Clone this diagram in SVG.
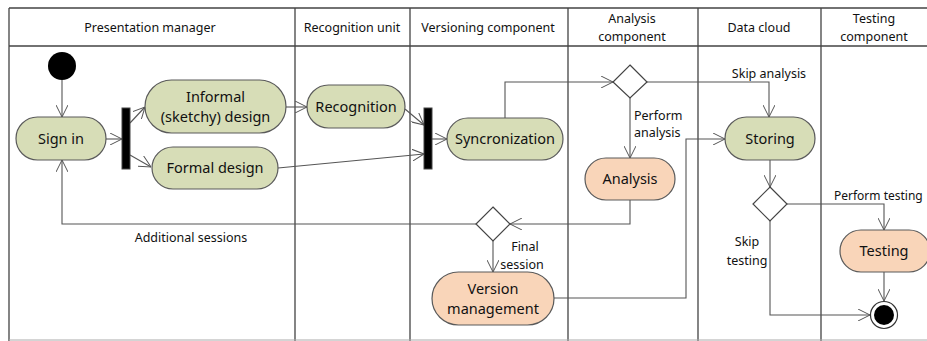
<svg xmlns="http://www.w3.org/2000/svg" width="927" height="341" viewBox="0 0 927 341">
<style>
text{font-family:"Noto Sans","Open Sans",sans-serif;fill:#111}
.h{font-size:12.5px;text-anchor:middle}
.n{font-size:14.5px;text-anchor:middle}
.l{font-size:12.5px}
.lane{stroke:#444;stroke-width:1.3;fill:none}
.g{fill:#d7ddb7;stroke:#5a5a5a;stroke-width:1.2}
.o{fill:#f9d5b9;stroke:#5a5a5a;stroke-width:1.2}
.c{stroke:#555;stroke-width:1.1;fill:none}
.d{fill:#fff;stroke:#444;stroke-width:1.2}
</style>
<defs>
<marker id="a" viewBox="0 0 12 12" refX="12" refY="6" markerWidth="12" markerHeight="12" markerUnits="userSpaceOnUse" orient="auto">
<path d="M0,0 L12,6 L0,12" fill="none" stroke="#555" stroke-width="1"/>
</marker>
</defs>
<rect width="927" height="341" fill="#fff"/>
<g id="lanes">
<path class="lane" d="M9,8 H927 M9,46 H927 M9,8 V341 M295,8 V341 M410,8 V341 M698,8 V341"/>
<path class="lane" d="M568,8 V341 M821,8 V341" stroke-width="2"/>
<path d="M9,340 H927" stroke="#aaa" stroke-width="1"/>
<text class="h" x="150" y="32">Presentation manager</text>
<text class="h" x="352" y="32">Recognition unit</text>
<text class="h" x="488" y="32">Versioning component</text>
<text class="h" x="632" y="23">Analysis</text>
<text class="h" x="632" y="41">component</text>
<text class="h" x="759" y="32">Data cloud</text>
<text class="h" x="874" y="23">Testing</text>
<text class="h" x="874" y="41">component</text>
</g>
<g id="connectors">
<path class="c" d="M62,80 V117" marker-end="url(#a)"/>
<path class="c" d="M106,139 H122" marker-end="url(#a)"/>
<path class="c" d="M130,123 L145,107" marker-end="url(#a)"/>
<path class="c" d="M130,155 L151,167" marker-end="url(#a)"/>
<path class="c" d="M286,107 H307" marker-end="url(#a)"/>
<path class="c" d="M405,109 L424,125" marker-end="url(#a)"/>
<path class="c" d="M278,168 L424,154" marker-end="url(#a)"/>
<path class="c" d="M432,139 H447" marker-end="url(#a)"/>
<path class="c" d="M505,118 V82 H613" marker-end="url(#a)"/>
<path class="c" d="M647,82 H769 V117" marker-end="url(#a)"/>
<path class="c" d="M630,98 V158" marker-end="url(#a)"/>
<path class="c" d="M630,200 V224 H510" marker-end="url(#a)"/>
<path class="c" d="M476,224 H62 V160" marker-end="url(#a)"/>
<path class="c" d="M493,241 V272" marker-end="url(#a)"/>
<path class="c" d="M554,298 H686 V139 H725" marker-end="url(#a)"/>
<path class="c" d="M770,160 V187" marker-end="url(#a)"/>
<path class="c" d="M787,204 H884 V230" marker-end="url(#a)"/>
<path class="c" d="M884,272 V301" marker-end="url(#a)"/>
<path class="c" d="M770,221 V315 H870" marker-end="url(#a)"/>
<text class="l" x="769" y="78" text-anchor="middle">Skip analysis</text>
<text class="l" x="634" y="120">Perform</text>
<text class="l" x="634" y="137">analysis</text>
<text class="l" x="191" y="242" text-anchor="middle">Additional sessions</text>
<text class="l" x="525" y="251" text-anchor="middle">Final</text>
<text class="l" x="522" y="269" text-anchor="middle">session</text>
<text class="l" x="834" y="200" style="font-size:12px">Perform testing</text>
<text class="l" x="747" y="246" text-anchor="middle">Skip</text>
<text class="l" x="747" y="265" text-anchor="middle">testing</text>
</g>
<g id="start"><circle cx="62" cy="66" r="14" fill="#000"/></g>
<g id="signin"><rect class="g" x="16" y="117" width="90" height="43" rx="21.5"/><text class="n" x="61" y="144">Sign in</text></g>
<g id="fork1"><rect x="122" y="108" width="8" height="61" fill="#000" stroke="#444"/></g>
<g id="informal"><rect class="g" x="145" y="80" width="141" height="53" rx="26.5"/><text class="n" x="215.5" y="102">Informal</text><text class="n" x="215.5" y="122">(sketchy) design</text></g>
<g id="formal"><rect class="g" x="152" y="147" width="126" height="42" rx="21"/><text class="n" x="215" y="173">Formal design</text></g>
<g id="recognition"><rect class="g" x="307" y="85" width="98" height="43" rx="21.5"/><text class="n" x="356" y="112">Recognition</text></g>
<g id="fork2"><rect x="424" y="108" width="8" height="61" fill="#000" stroke="#444"/></g>
<g id="sync"><rect class="g" x="447" y="118" width="116" height="42" rx="21"/><text class="n" x="505" y="144">Syncronization</text></g>
<g id="decision1"><path class="d" d="M630,65 L647,82 L630,98 L613,82 Z"/></g>
<g id="analysis"><rect class="o" x="585" y="158" width="90" height="42" rx="21"/><text class="n" x="630" y="184">Analysis</text></g>
<g id="storing"><rect class="g" x="725" y="117" width="90" height="43" rx="21.5"/><text class="n" x="770" y="144">Storing</text></g>
<g id="decision2"><path class="d" d="M493,207 L510,224 L493,241 L476,224 Z"/></g>
<g id="version"><rect class="o" x="432" y="272" width="122" height="53" rx="26.5"/><text class="n" x="493" y="294">Version</text><text class="n" x="493" y="314">management</text></g>
<g id="decision3"><path class="d" d="M770,187 L787,204 L770,221 L753,204 Z"/></g>
<g id="testing"><rect class="o" x="840" y="230" width="90" height="42" rx="21"/><text class="n" x="884" y="256">Testing</text></g>
<g id="end"><circle cx="884" cy="315" r="13.5" fill="#fff" stroke="#333" stroke-width="1.2"/><circle cx="884" cy="315" r="10" fill="#000"/></g>
</svg>
